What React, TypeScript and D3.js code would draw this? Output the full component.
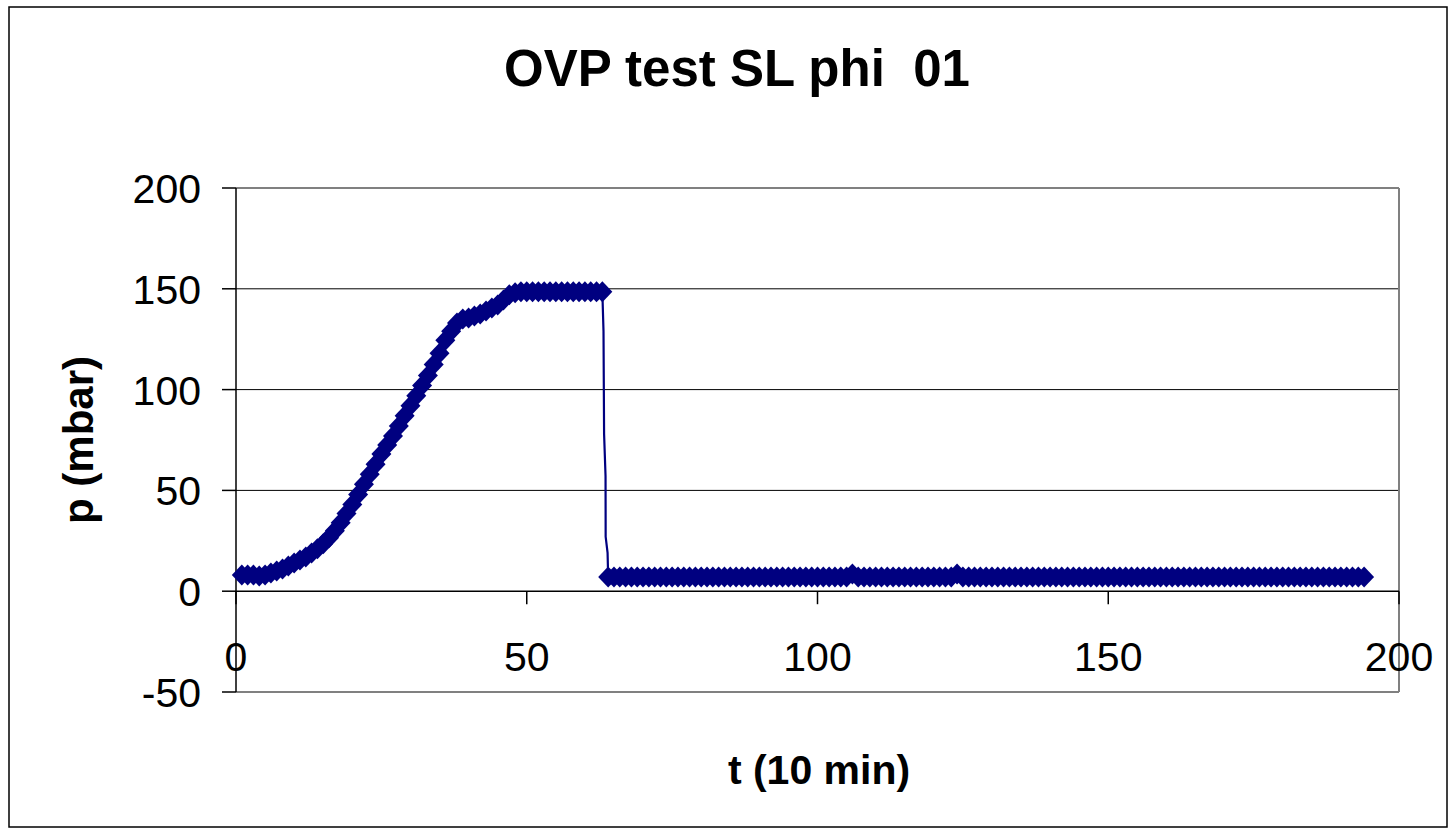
import React from "react";
import * as d3 from "d3";

// time index (10 min steps) and pressure (mbar) for each sampled point
const riseT = [1,2,3,4,5,6,7,8,9,10,11,12,13,14,15,16,17,18,19,20,21,22,23,24,25,26,27,28,29,30,31,32,33,34,35,36,37,38,39,40,41,42,43,44,45,46,47,48];
const riseP = [8,8,8,7.5,8,9,10,11,12.5,14,15.5,17,19,21,23.5,26.5,30,34,38.5,43,48,53,58,63,68,72.5,77,82,87,92,97,102,107,112.5,118,124.5,129,133,135,135.5,136.5,137.5,139,140.5,142,144.5,147,148];
const plateauT = [49,50,51,52,53,54,55,56,57,58,59,60,61,62,63];
const plateauP = [148.5,148.5,148.5,148.5,148.5,148.5,148.5,148.5,148.5,148.5,148.5,148.5,148.5,148.5,148.5];
// unmarked vertices of the pressure release
const dropT = [63.2,63.3,63.55,63.57,63.9];
const dropP = [129,78,57,27,19];
const lowT = [64,65,66,67,68,69,70,71,72,73,74,75,76,77,78,79,80,81,82,83,84,85,86,87,88,89,90,91,92,93,94,95,96,97,98,99,100,101,102,103,104,105,106,107,108,109,110,111,112,113,114,115,116,117,118,119,120,121,122,123,124,125,126,127,128,129,130,131,132,133,134,135,136,137,138,139,140,141,142,143,144,145,146,147,148,149,150,151,152,153,154,155,156,157,158,159,160,161,162,163,164,165,166,167,168,169,170,171,172,173,174,175,176,177,178,179,180,181,182,183,184,185,186,187,188,189,190,191,192,193,194];
const lowP = [7,7,7,7,7,7,7,7,7,7,7,7,7,7,7,7,7,7,7,7,7,7,7,7,7,7,7,7,7,7,7,7,7,7,7,7,7,7,7,7,7,7,8.5,7,7,7,7,7,7,7,7,7,7,7,7,7,7,7,7,7,8.5,7,7,7,7,7,7,7,7,7,7,7,7,7,7,7,7,7,7,7,7,7,7,7,7,7,7,7,7,7,7,7,7,7,7,7,7,7,7,7,7,7,7,7,7,7,7,7,7,7,7,7,7,7,7,7,7,7,7,7,7,7,7,7,7,7,7,7,7,7,7];

const xTicks = [0, 50, 100, 150, 200];
const yTicks = [-50, 0, 50, 100, 150, 200];
const gridValues = [50, 100, 150, 200];

const TITLE = "OVP test SL phi  01";
const X_TITLE = "t (10 min)";
const Y_TITLE = "p (mbar)";

type Pt = { t: number; p: number };
const zip = (ts: number[], ps: number[]): Pt[] => ts.map((t, i) => ({ t, p: ps[i] }));

export default function App() {
  const x = d3.scaleLinear().domain([0, 200]).range([236, 1399]);
  const y = d3.scaleLinear().domain([-50, 200]).range([692, 188]);

  const marked = [...zip(riseT, riseP), ...zip(plateauT, plateauP), ...zip(lowT, lowP)];
  const linePts = [...zip(riseT, riseP), ...zip(plateauT, plateauP), ...zip(dropT, dropP), ...zip(lowT, lowP)].sort((a, b) => a.t - b.t);
  const line = d3.line<Pt>().x(d => x(d.t)).y(d => y(d.p));

  const w = 10, h = 10.5;
  const diamond = `M0,${-h}L${w},0L0,${h}L${-w},0Z`;
  const font = "Liberation Sans, Arial, sans-serif";
  const navy = "#000080";

  return (
    <svg width={1456} height={835} style={{ position: "absolute", left: 0, top: 0, background: "#fff" }} fontFamily={font}>
      <rect x={9} y={7} width={1438} height={820} fill="#fff" stroke="#000" strokeWidth={1.5} />
      <text x={737} y={86} textAnchor="middle" fontSize={51} fontWeight="bold" style={{ whiteSpace: "pre" }}>{TITLE}</text>

      {gridValues.map(v => (
        <line key={v} x1={x(0)} x2={x(200)} y1={y(v)} y2={y(v)} stroke={v === 200 ? "#808080" : "#000"} strokeWidth={v === 200 ? 2 : 1} />
      ))}
      <line x1={x(200)} x2={x(200)} y1={y(200)} y2={y(-50)} stroke="#808080" strokeWidth={2} />
      <line x1={x(0)} x2={x(200)} y1={y(-50)} y2={y(-50)} stroke="#808080" strokeWidth={2} />
      <line x1={x(0)} x2={x(0)} y1={y(200)} y2={y(-50)} stroke="#000" strokeWidth={1.5} />
      <line x1={x(0)} x2={x(200)} y1={y(0)} y2={y(0)} stroke="#000" strokeWidth={1.5} />

      {yTicks.map(v => (
        <g key={v}>
          <line x1={x(0) - 14} x2={x(0)} y1={y(v)} y2={y(v)} stroke="#000" strokeWidth={1.5} />
          <text x={201} y={y(v) + 15} textAnchor="end" fontSize={41}>{v}</text>
        </g>
      ))}
      {xTicks.map(v => (
        <g key={v}>
          <line x1={x(v)} x2={x(v)} y1={y(0)} y2={y(0) + 13} stroke="#000" strokeWidth={1.5} />
          <text x={x(v)} y={671} textAnchor="middle" fontSize={41}>{v}</text>
        </g>
      ))}

      <path d={line(linePts) || ""} fill="none" stroke={navy} strokeWidth={2.2} />
      {marked.map((d, i) => (
        <path key={i} d={diamond} transform={`translate(${x(d.t)},${y(d.p)})`} fill={navy} />
      ))}

      <text x={819} y={784} textAnchor="middle" fontSize={41} fontWeight="bold">{X_TITLE}</text>
      <text transform="translate(93,440) rotate(-90)" textAnchor="middle" fontSize={42} fontWeight="bold">{Y_TITLE}</text>
    </svg>
  );
}
